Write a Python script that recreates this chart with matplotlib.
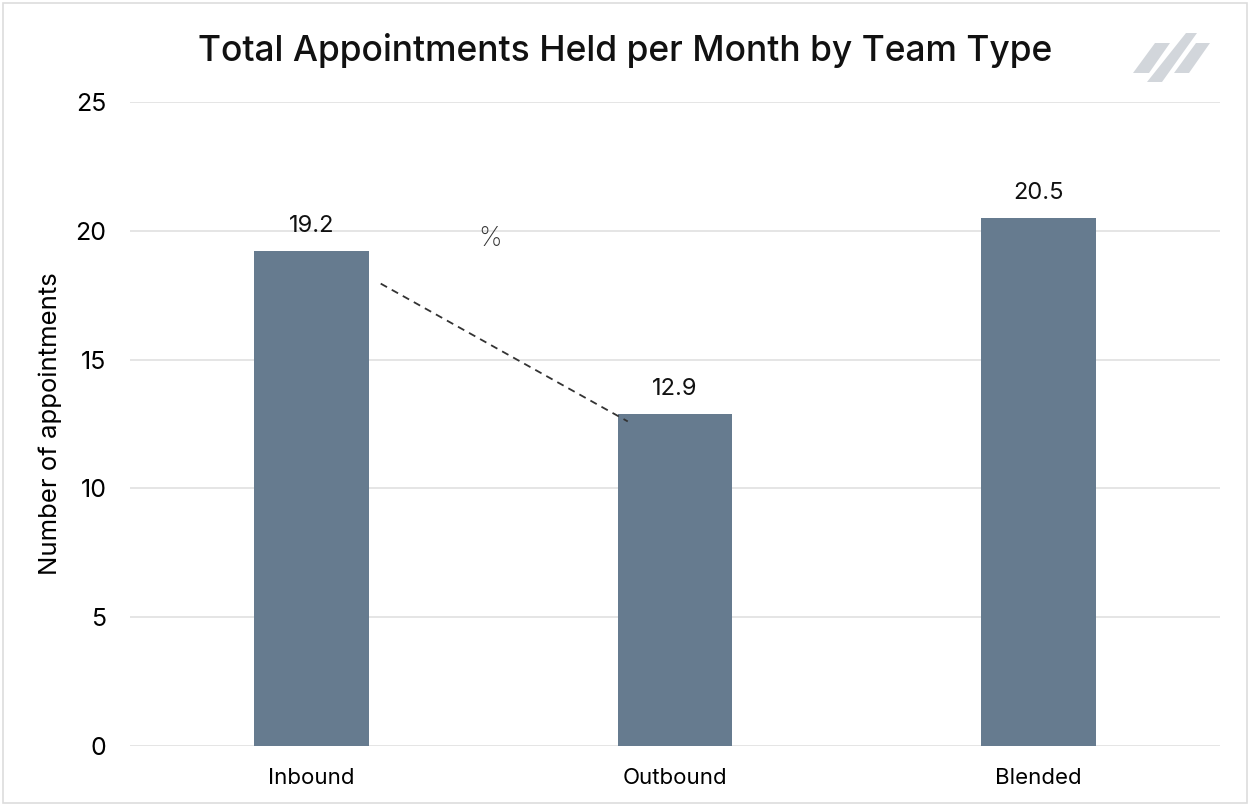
import numpy as np
import matplotlib.pyplot as plt
from matplotlib.patches import Polygon, Rectangle

# Data
teams = ["Inbound", "Outbound", "Blended"]
appointments = [19.2, 12.9, 20.5]
yticks = [0, 5, 10, 15, 20, 25]
# dashed connector (data coords) and its label
trend_x = [0.19, 0.87]
trend_y = [17.95, 12.6]
trend_label = "%"
trend_label_pos = (0.49, 19.7)

plt.rcParams['font.family'] = ['Inter', 'DejaVu Sans']
bar_color = '#667b8f'

fig = plt.figure(figsize=(12.5, 8.06), dpi=100)
ax = fig.add_axes([130 / 1250, 1 - 746 / 806, 1090 / 1250, 644 / 806])

x = np.arange(len(teams))
bars = ax.bar(x, appointments, width=0.315, color=bar_color, zorder=3)
for xi, v in zip(x, appointments):
    ax.text(xi, v + 0.55, f"{v:.1f}", ha='center', va='bottom', fontsize=17, color='#111111')

ax.plot(trend_x, trend_y, linestyle=(0, (4, 3)), color='#333333', linewidth=1.3, zorder=4)
ax.text(*trend_label_pos, trend_label, ha='center', va='center', fontsize=19,
        fontweight='light', color='#333333')

ax.set_xlim(-0.5, 2.5)
ax.set_ylim(0, 25)
ax.set_yticks(yticks)
ax.set_xticks(x)
ax.set_xticklabels(teams, fontsize=16)
ax.tick_params(axis='y', labelsize=18, length=0, pad=17)
ax.tick_params(axis='x', length=0, pad=16)
ax.grid(axis='y', color='#e0e0e0', linewidth=1.2, zorder=0)
for s in ax.spines.values():
    s.set_visible(False)
ax.set_ylabel("Number of appointments", fontsize=18.5)
ax.yaxis.set_label_coords(-0.062, 0.5)

fig.text(0.5, 1 - 50 / 806, "Total Appointments Held per Month by Team Type",
         ha='center', va='center', fontsize=25.5, fontweight='medium', color='#111111')

# figure border
fig.patches.append(Rectangle((3 / 1250, 3 / 806), 1244 / 1250, 800 / 806, transform=fig.transFigure,
                             fill=False, edgecolor='#dddddd', linewidth=1.2))

# logo slashes
def px(pts):
    return [(a / 1250, 1 - b / 806) for a, b in pts]

logo = [
    [(1133, 73), (1149, 73), (1170, 43), (1155, 43)],
    [(1147, 82), (1162, 82), (1197, 33), (1186, 33)],
    [(1174, 73), (1189, 73), (1210, 43), (1196, 43)],
]
for shape in logo:
    fig.patches.append(Polygon(px(shape), closed=True, transform=fig.transFigure,
                               facecolor='#d2d6db', edgecolor='none'))

fig.savefig("out.png", dpi=100)
